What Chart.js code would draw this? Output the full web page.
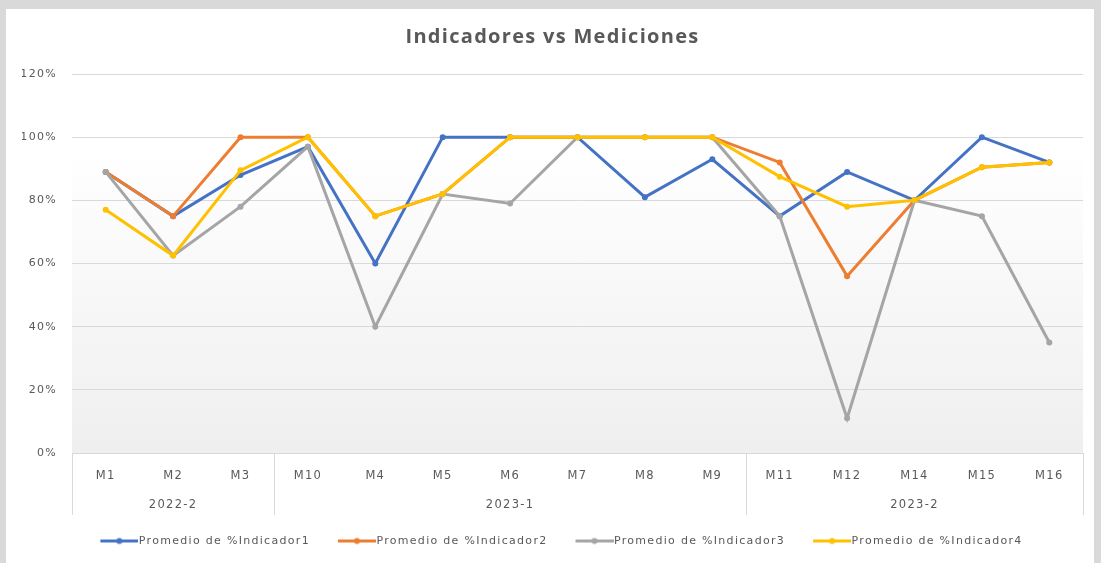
<!DOCTYPE html>
<html><head><meta charset="utf-8">
<script src="https://cdn.jsdelivr.net/npm/chart.js@4.4.1/dist/chart.umd.min.js"></script>
<style>
html,body{margin:0;padding:0;background:#d9d9d9;width:1101px;height:563px;overflow:hidden}
#wrap{position:absolute;left:6px;top:9px;width:1088px;height:554px;background:#fff}
</style></head><body>
<div id="wrap"><canvas id="c"></canvas></div>
<script>
const categories = ['M1','M2','M3','M10','M4','M5','M6','M7','M8','M9','M11','M12','M14','M15','M16'];
const groupLabels = ['2022-2','2023-1','2023-2'];
const groupSizes = [3, 7, 5];
const seriesNames = ['Promedio de %Indicador1','Promedio de %Indicador2','Promedio de %Indicador3','Promedio de %Indicador4'];
const indicador1 = [89, 75, 88, 97, 60, 100, 100, 100, 81, 93, 75, 89, 80, 100, 92];
const indicador2 = [89, 75, 100, 100, 75, 82, 100, 100, 100, 100, 92, 56, 80, 90.5, 92];
const indicador3 = [89, 62.5, 78, 97, 40, 82, 79, 100, 100, 100, 75, 11, 80, 75, 35];
const indicador4 = [77, 62.5, 89.5, 100, 75, 82, 100, 100, 100, 100, 87.5, 78, 80, 90.5, 92];
const yMax = 120, yStep = 20;
const colors = ['#4472C4','#ED7D31','#A5A5A5','#FFC000'];

// middle label of each group
const midLabel = categories.map(() => '');
{ let s = 0; groupSizes.forEach((n, g) => { midLabel[s + Math.floor(n / 2)] = groupLabels[g]; s += n; }); }

function legendImg(color){
  const c = document.createElement('canvas');
  c.width = 61; c.height = 9;
  const g = c.getContext('2d');
  g.strokeStyle = color; g.lineWidth = 3;
  g.beginPath(); g.moveTo(23, 4.5); g.lineTo(61, 4.5); g.stroke();
  g.fillStyle = color; g.beginPath(); g.arc(42, 4.5, 3, 0, Math.PI*2); g.fill();
  return c;
}
const legendImgs = colors.map(legendImg);

const LS = '1.3px';
const spacingPlugin = {
  id: 'spacing',
  beforeUpdate(chart){ chart.ctx.letterSpacing = LS; },
  beforeLayout(chart){ chart.ctx.letterSpacing = LS; },
  beforeDraw(chart){
    chart.ctx.letterSpacing = LS;
    const a = chart.chartArea, ctx = chart.ctx;
    const gr = ctx.createLinearGradient(0, a.top, 0, a.bottom);
    gr.addColorStop(0, '#ffffff');
    gr.addColorStop(0.2, '#ffffff');
    gr.addColorStop(1, '#efefef');
    ctx.save(); ctx.fillStyle = gr; ctx.fillRect(a.left, a.top, a.right - a.left, a.bottom - a.top); ctx.restore();
  }
};
const groupLinesPlugin = {
  id: 'groupLines',
  afterDraw(chart){
    const xs = chart.scales.x, a = chart.chartArea, ctx = chart.ctx;
    const bounds = [a.left];
    let s = 0;
    groupSizes.forEach(n => { s += n; if (s < categories.length) bounds.push((xs.getPixelForValue(s - 1) + xs.getPixelForValue(s)) / 2); });
    bounds.push(a.right);
    ctx.save(); ctx.strokeStyle = '#d9d9d9'; ctx.lineWidth = 1;
    bounds.forEach(px => { const xx = Math.round(px) + 0.5; ctx.beginPath(); ctx.moveTo(xx, a.bottom); ctx.lineTo(xx, a.bottom + 62); ctx.stroke(); });
    ctx.restore();
  }
};

const seriesData = [indicador1, indicador2, indicador3, indicador4];
const datasets = seriesData.map((d, i) => ({
  label: seriesNames[i], data: d,
  borderColor: colors[i], backgroundColor: colors[i],
  pointBackgroundColor: colors[i], pointBorderWidth: 0, pointRadius: 3,
  borderWidth: 3, tension: 0, fill: false,
  order: 3 - i
}));

new Chart(document.getElementById('c'), {
  type: 'line',
  data: { labels: categories, datasets },
  options: {
    responsive: true, maintainAspectRatio: false, animation: false, events: [],
    layout: { padding: { left: 16, right: 11, top: 0, bottom: 6.5 } },
    plugins: {
      tooltip: { enabled: false },
      title: { display: true, text: 'Indicadores vs Mediciones', color: '#595959',
        font: { family: 'Open Sans', size: 20, weight: 'bold', lineHeight: 1.2 },
        padding: { top: 16, bottom: 25 } },
      legend: { position: 'bottom',
        labels: { usePointStyle: true, pointStyleWidth: 51, boxHeight: 11, padding: 10, color: '#595959',
          font: { family: 'DejaVu Sans', size: 11 },
          sort: (a, b) => a.datasetIndex - b.datasetIndex,
          generateLabels(chart){
            const items = Chart.defaults.plugins.legend.labels.generateLabels(chart);
            items.forEach(it => { it.pointStyle = legendImgs[it.datasetIndex]; });
            return items;
          } } }
    },
    scales: {
      x: { offset: true,
        grid: { display: false, drawTicks: false },
        border: { display: true, color: '#d9d9d9', width: 1 },
        ticks: { autoSkip: false, maxRotation: 0, color: '#595959', padding: 9,
          font: { family: 'DejaVu Sans', size: 11.5, lineHeight: 29/11.5 },
          callback: (v, i) => [categories[i], midLabel[i]] },
        afterFit(s){ s.height = 72.5; } },
      y: { min: 0, max: yMax,
        ticks: { stepSize: yStep, color: '#595959', padding: 15, font: { family: 'DejaVu Sans', size: 11 },
          callback: v => v + '%' },
        grid: { color: '#d9d9d9', drawTicks: false },
        border: { display: false },
        afterFit(s){ s.width = 50; } }
    }
  },
  plugins: [spacingPlugin, groupLinesPlugin]
});
</script>
</body></html>
